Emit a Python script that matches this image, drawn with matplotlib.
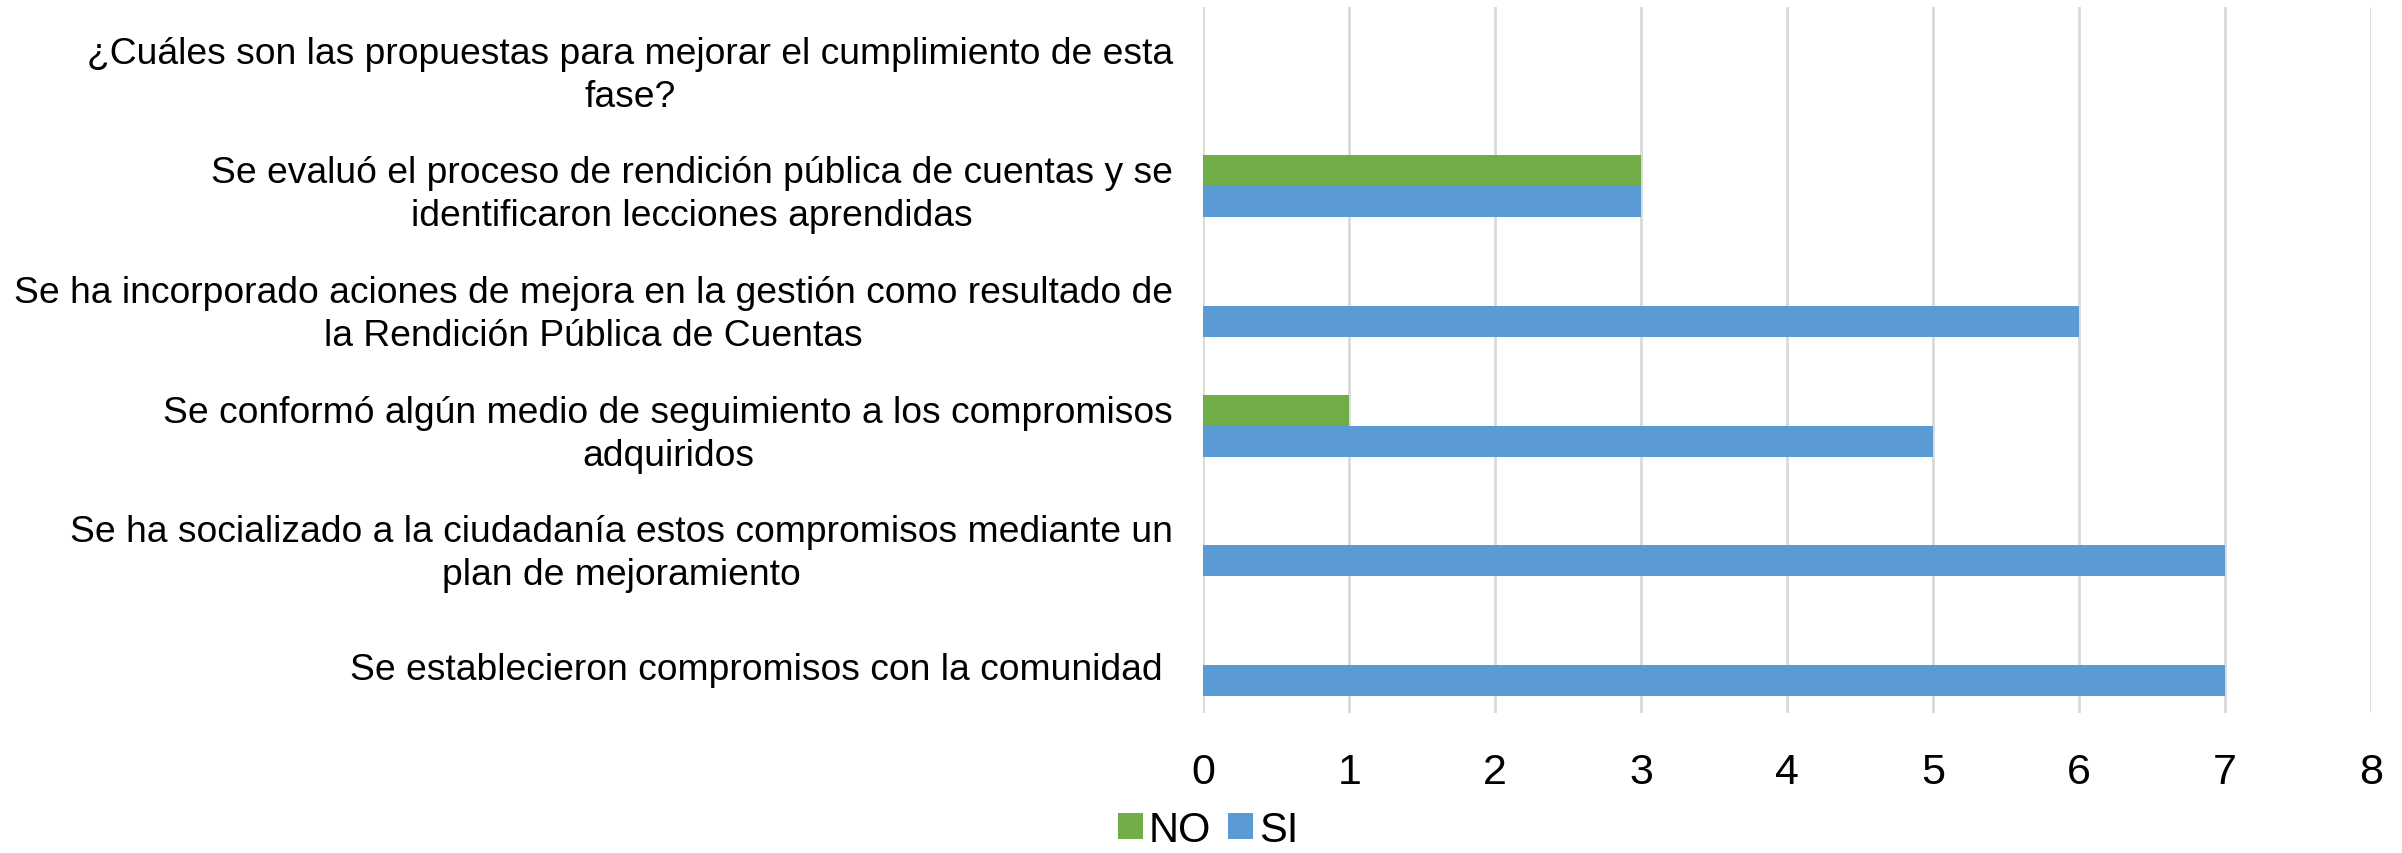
import matplotlib.pyplot as plt
import numpy as np

plt.rcParams['font.family'] = ['Liberation Sans', 'DejaVu Sans']

# categories listed bottom to top
categories = [
    "Se establecieron compromisos con la comunidad ",
    "Se ha socializado a la ciudadanía estos compromisos mediante un\nplan de mejoramiento",
    "Se conformó algún medio de seguimiento a los compromisos\nadquiridos",
    "Se ha incorporado aciones de mejora en la gestión como resultado de\nla Rendición Pública de Cuentas",
    "Se evaluó el proceso de rendición pública de cuentas y se\nidentificaron lecciones aprendidas",
    "¿Cuáles son las propuestas para mejorar el cumplimiento de esta\nfase?",
]
si_values = [7, 7, 5, 6, 3, 0]
no_values = [0, 0, 1, 0, 3, 0]
x_ticks = [0, 1, 2, 3, 4, 5, 6, 7, 8]

green = "#70AD47"
blue = "#5B9BD5"

fig = plt.figure(figsize=(24.02, 8.54), dpi=100)
ax = fig.add_axes([0.501, 0.164, 0.486, 0.827])

y = np.arange(len(categories))
h = 0.26
ax.barh(y + h / 2, no_values, height=h, color=green, label="NO")
ax.barh(y - h / 2, si_values, height=h, color=blue, label="SI")

ax.set_xlim(0, 8)
ax.set_ylim(-0.4, 5.5)
ax.set_xticks(x_ticks)
ax.set_xticklabels([str(t) for t in x_ticks], fontsize=31)
ax.set_yticks(y)
ax.set_yticklabels(categories, fontsize=26.8, multialignment="center", linespacing=1.3)
ax.tick_params(axis="both", length=0)
ax.tick_params(axis="y", pad=22)
ax.tick_params(axis="x", pad=28)

ax.grid(axis="x", color="#D9D9D9", linewidth=2)
ax.set_axisbelow(True)
for s in ax.spines.values():
    s.set_visible(False)

fig.legend(loc="center", bbox_to_anchor=(0.503, 0.027), ncol=2, frameon=False,
           fontsize=30, handlelength=0.6, handleheight=0.6, handletextpad=0.15,
           columnspacing=0.4)

fig.savefig("out.png", dpi=100)
